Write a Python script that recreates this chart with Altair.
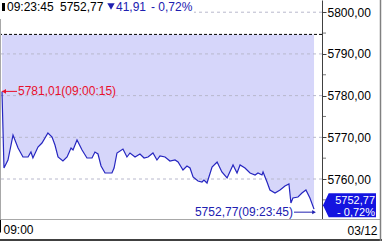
import altair as alt
import pandas as pd

# ---- data ----
minutes = [0.25, 0.40, 0.70, 1.08, 1.46, 1.83, 2.21, 2.43, 2.58, 2.96,
           3.26, 3.71, 4.02, 4.24, 4.47, 4.84, 5.15, 5.45, 5.60, 5.90,
           6.28, 6.65, 7.03, 7.25, 7.48, 7.71, 8.01, 8.53, 8.69, 8.91,
           9.36, 9.66, 9.89, 10.27, 10.64, 10.95, 11.25, 11.62, 11.92, 12.15,
           12.53, 12.90, 13.28, 13.51, 13.88, 14.18, 14.41, 14.64, 15.01, 15.31,
           15.46, 15.69, 16.07, 16.45, 16.81, 17.20, 17.65, 17.95, 18.18, 18.55,
           18.93, 19.31, 19.53, 19.83, 19.91, 20.21, 20.43, 20.81, 21.19, 21.56,
           21.86, 22.01, 22.16, 22.54, 22.84, 23.14, 23.44, 23.75]
prices = [5781.01, 5762.64, 5764.56, 5770.55, 5767.43, 5765.28, 5765.28, 5766.47, 5765.04, 5767.67,
          5768.63, 5771.03, 5770.07, 5768.15, 5765.28, 5764.32, 5765.28, 5767.43, 5766.95, 5769.35,
          5766.95, 5765.04, 5765.04, 5766.47, 5766.00, 5763.12, 5761.44, 5761.44, 5762.64, 5766.24,
          5767.19, 5765.28, 5766.24, 5765.28, 5766.00, 5765.04, 5765.28, 5766.24, 5764.56, 5765.52,
          5765.28, 5764.32, 5764.56, 5764.08, 5762.16, 5763.12, 5762.64, 5760.48, 5759.52, 5759.28,
          5759.76, 5759.04, 5762.88, 5764.08, 5761.68, 5760.24, 5763.36, 5761.44, 5763.36, 5762.64,
          5761.44, 5760.96, 5761.44, 5760.96, 5761.68, 5759.28, 5757.36, 5756.64, 5757.36, 5758.32,
          5758.80, 5754.24, 5755.44, 5755.68, 5756.64, 5757.36, 5755.44, 5752.77]

prev_close = 5794.68
grid_levels = [5760, 5770, 5780, 5790, 5800]
minor_levels = [5755, 5765, 5775, 5785, 5795]

high_time = 0.25
high_price = 5781.01
high_label = "5781,01(09:00:15)"
last_time = 23.75
last_price = 5752.77
last_label = "5752,77(09:23:45)"

header_time = "09:23:45"
header_price = "5752,77"
header_change = "41,91"
header_pct = "- 0,72%"
box_price = "5752,77"
box_pct = "- 0,72%"
start_label = "09:00"
date_label = "03/12"

x_domain = [0.1, 24.35]
y_domain = [5750.41, 5802.93]

# ---- styles ----
FONT = "Liberation Sans"
LINE_BLUE = "#2626c0"
FILL = "#d6d6fa"
TEXT_BLUE = "#2020b0"
RED = "#e8102c"
BOX_BLUE = "#1414e0"

xs = alt.Scale(domain=x_domain, nice=False, zero=False)
ys = alt.Scale(domain=y_domain, nice=False, zero=False)

x_axis = alt.Axis(values=[x_domain[0]], labelExpr="'" + start_label + "'",
                  labelAlign="left", labelBaseline="middle", labelOffset=3,
                  labelPadding=-3, labelFontSize=12, labelColor="black",
                  labelFont=FONT, labelFlush=False,
                  tickSize=13, tickColor="black", domainColor="#a8a8a8",
                  grid=False, titleX=377, titleY=11, titleAlign="right",
                  titleBaseline="middle", titleFontSize=12,
                  titleFontWeight="normal", titleFont=FONT, titleColor="black")
y_axis = alt.Axis(orient="right", values=grid_levels,
                  labelExpr="replace(format(datum.value, '.2f'), '.', ',')",
                  labelFontSize=12, labelFont=FONT, labelColor="black",
                  labelPadding=1, labelBaseline="middle",
                  tickSize=4, tickColor="#404040", domainColor="#404040",
                  grid=False)


def X():
    return alt.X("t:Q", scale=xs, axis=x_axis, title=date_label)


def Y():
    return alt.Y("p:Q", scale=ys, axis=y_axis, title=None)


df = pd.DataFrame({"t": minutes, "p": prices})
one = pd.DataFrame({"k": [0]})

line = alt.Chart(df).mark_line(color=LINE_BLUE, strokeWidth=1.2).encode(x=X(), y=Y())

area = alt.Chart(df).mark_area(color=FILL).encode(
    x=X(), y=Y(), y2=alt.datum(prev_close))

grid = alt.Chart(pd.DataFrame({"p": grid_levels})).mark_rule(
    color="#b8b8cc", strokeDash=[3, 3], strokeWidth=1).encode(y=Y())

prev_rule = alt.Chart(pd.DataFrame({"p": [prev_close]})).mark_rule(
    color="black", strokeDash=[3, 2], strokeWidth=1).encode(y=Y())

minor = alt.Chart(pd.DataFrame({"p": minor_levels})).mark_tick(
    orient="horizontal", size=4, thickness=1, color="#404040"
).encode(y=Y(), x=alt.value(324))

# high marker
hi = pd.DataFrame({"t": [high_time], "p": [high_price], "s": [high_label]})
hi_rule = alt.Chart(hi).mark_rule(color=RED, strokeWidth=1).encode(
    x=X(), x2=alt.value(17), y=Y())
hi_head = alt.Chart(hi).mark_point(shape="triangle-left", filled=True, color=RED,
                                   size=22, opacity=1, xOffset=2).encode(x=X(), y=Y())
hi_text = alt.Chart(hi).mark_text(align="left", baseline="middle", dx=16,
                                  fontSize=12, font=FONT, color=RED).encode(
    x=X(), y=Y(), text="s:N")

# last / low marker
lo = pd.DataFrame({"t": [last_time], "p": [last_price], "s": [last_label]})
lo_rule = alt.Chart(lo).mark_rule(color=TEXT_BLUE, strokeWidth=1, yOffset=3).encode(
    x=X(), x2=alt.value(294), y=Y())
lo_head = alt.Chart(lo).mark_point(shape="triangle-right", filled=True, color=TEXT_BLUE,
                                   size=18, opacity=1, yOffset=3).encode(x=X(), y=Y())
lo_text = alt.Chart(lo).mark_text(align="right", baseline="middle", dx=-21, dy=3,
                                  fontSize=12, font=FONT, color=TEXT_BLUE).encode(
    x=X(), y=Y(), text="s:N")

# last price box on the right
box_shape = "M -1 0 L -0.785 -0.453 L 1 -0.453 L 1 0.453 L -0.785 0.453 Z"
box = alt.Chart(lo).mark_point(shape=box_shape, filled=True, color=BOX_BLUE,
                               size=2809, opacity=1, yOffset=-4).encode(
    x=alt.value(349.5), y=Y())
bx = pd.DataFrame({"p": [last_price], "a": [box_price], "b": [box_pct]})
box_t1 = alt.Chart(bx).mark_text(align="right", baseline="middle", dy=-8,
                                 fontSize=11, font=FONT, color="white").encode(
    x=alt.value(375), y=Y(), text="a:N")
box_t2 = alt.Chart(bx).mark_text(align="right", baseline="middle", dy=4,
                                 fontSize=11, font=FONT, color="white").encode(
    x=alt.value(375), y=Y(), text="b:N")

# header
hdr = pd.DataFrame({"a": [header_time], "b": [header_price], "c": [header_change], "d": [header_pct]})
hdr_bg = alt.Chart(one).mark_rect(color="white").encode(
    x=alt.value(0), x2=alt.value(194), y=alt.value(0), y2=alt.value(19))
hdr_mark = alt.Chart(one).mark_rect(color="black").encode(
    x=alt.value(2), x2=alt.value(5), y=alt.value(3), y2=alt.value(11))


def htext(field, xpos, color):
    return alt.Chart(hdr).mark_text(align="left", baseline="middle", fontSize=12,
                                    font=FONT, color=color).encode(
        x=alt.value(xpos), y=alt.value(7), text=f"{field}:N")


hdr_tri = alt.Chart(one).mark_point(shape="triangle-down", filled=True, color=TEXT_BLUE,
                                    size=55, opacity=1).encode(x=alt.value(111), y=alt.value(6.5))

# frame pieces
frame_left = alt.Chart(one).mark_rule(color="#a8a8a8").encode(
    x=alt.value(0.5), y=alt.value(19), y2=alt.value(219))
frame_bot_r = alt.Chart(one).mark_rule(color="#a8a8a8").encode(
    x=alt.value(322), x2=alt.value(380), y=alt.value(219.5))
frame_bottom = alt.Chart(one).mark_rule(color="black", strokeWidth=1.5).encode(
    x=alt.value(0), x2=alt.value(382), y=alt.value(240))
frame_right = alt.Chart(one).mark_rule(color="#808080", strokeWidth=1.5).encode(
    x=alt.value(380.5), y=alt.value(0), y2=alt.value(241))

chart = alt.layer(
    area, grid, prev_rule, line, minor,
    hi_rule, hi_head, hi_text, lo_rule, lo_head, lo_text,
    box, box_t1, box_t2,
    hdr_bg, hdr_mark, htext("a", 7, "black"), htext("b", 60, "black"), hdr_tri,
    htext("c", 116, TEXT_BLUE), htext("d", 151, TEXT_BLUE),
    frame_left, frame_bot_r, frame_bottom, frame_right,
).properties(
    width=322, height=219, autosize="none",
    padding={"left": 0, "top": 0, "right": 60, "bottom": 22},
    background="white",
).configure(font=FONT).configure_view(strokeWidth=0)

chart.save("out.html", embed_options={"renderer": "svg", "actions": False})
